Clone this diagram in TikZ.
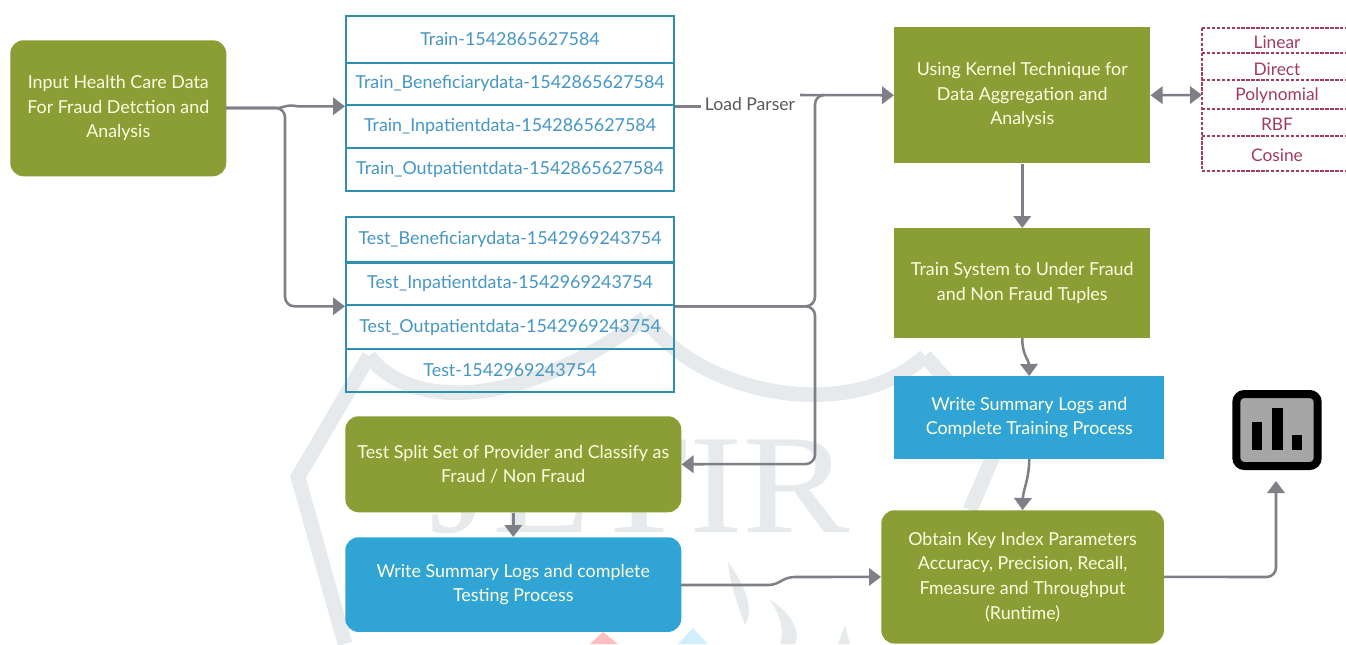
\documentclass[tikz,border=0pt]{standalone}
\usepackage{fontspec}
\setmainfont{Lato}
\newfontfamily\wmfont{Liberation Serif}
\usetikzlibrary{arrows.meta}
\definecolor{olive}{HTML}{8B9E35}
\definecolor{sky}{HTML}{30A5D5}
\definecolor{teal}{HTML}{2F8FAF}
\definecolor{celltext}{HTML}{4596C4}
\definecolor{wine}{HTML}{A23A62}
\definecolor{conn}{HTML}{7F8087}
\definecolor{wmcol}{HTML}{E6EAEC}
\tikzset{
  x=0.75pt,y=-0.75pt,
  flow/.style={draw=none,text=white!88!yellow,align=center,font=\fontsize{13.4}{18.4}\selectfont,inner sep=0pt,anchor=north west},
  oliveround/.style={flow,fill=olive,rounded corners=10pt},
  olivesq/.style={flow,fill=olive},
  bluesq/.style={flow,fill=sky},
  blueround/.style={flow,fill=sky,rounded corners=10pt},
  cell/.style={draw=teal,line width=1.6pt,text=celltext,font=\fontsize{13.4}{16}\selectfont,inner sep=0pt,minimum width=246pt,anchor=north west},
  kcell/.style={text=wine,font=\fontsize{13}{16}\selectfont,inner sep=0pt},
  kline/.style={draw=wine,line width=1.5pt,dash pattern=on 2.5pt off 1.2pt},
  link/.style={draw=conn,line width=1.9pt,rounded corners=7pt},
  headtip/.style={-{Triangle[length=9pt,width=13pt]}},
  arr/.style={link,headtip},
  curvedlink/.style={draw=conn,line width=1.9pt,headtip},
  wm/.style={draw=wmcol,line width=11pt,line join=miter,line cap=butt}
}
\begin{document}
\begin{tikzpicture}
\useasboundingbox (0,0) rectangle (1346,644);
\fill[white] (0,0) rectangle (1346,644);
% watermark
\draw[wm] (345,644) -- (298,477) -- (369,356);
\draw[wm] (369,356) .. controls (410,410) and (520,410) .. (645,318);
\draw[wm] (645,318) .. controls (700,395) and (850,425) .. (925,356);
\draw[wm] (925,356) -- (1000,440) -- (970,510);
\node[font=\fontsize{106}{106}\selectfont\wmfont,text=wmcol,inner sep=0pt,xscale=1.14,anchor=base] (wmt) at (640,532) {JETIR};
\fill[wmcol] (728,562) .. controls (745,585) and (755,610) .. (745,625) .. controls (738,605) and (730,585) .. (728,562);
\fill[wmcol] (770,600) .. controls (795,615) and (800,635) .. (795,644) -- (780,644) .. controls (785,630) and (780,615) .. (770,600);
\fill[wmcol] (845,625) -- (850,644) -- (838,644) -- cycle;
\fill[red!25] (603,632) -- (618,644) -- (590,644) -- cycle;
\fill[cyan!18] (693,628) -- (708,644) -- (678,644) -- cycle;
% boxes
\node[oliveround,minimum width=162pt,minimum height=102pt] (input) at (10,40) {Input Health Care Data\\For Fraud Detction and\\Analysis};
\node[cell,minimum height=35pt] (t1) at (345,15) {Train-1542865627584};
\node[cell,minimum height=32pt] (t2) at (345,61.5) {Train\_Beneficiarydata-1542865627584};
\node[cell,minimum height=32pt] (t3) at (345,104) {Train\_Inpatientdata-1542865627584};
\node[cell,minimum height=32pt] (t4) at (345,147) {Train\_Outpatientdata-1542865627584};
\node[cell,minimum height=34pt] (e1) at (345,216) {Test\_Beneficiarydata-1542969243754};
\node[cell,minimum height=32pt] (e2) at (345,261.5) {Test\_Inpatientdata-1542969243754};
\node[cell,minimum height=33pt] (e3) at (345,304) {Test\_Outpatientdata-1542969243754};
\node[cell,minimum height=32pt] (e4) at (345,348) {Test-1542969243754};
\node[olivesq,minimum width=192pt,minimum height=102pt] (kernel) at (894,27) {Using Kernel Technique for\\Data Aggregation and\\Analysis};
\node[olivesq,minimum width=192pt,minimum height=82pt] (train) at (894,228) {Train System to Under Fraud\\and Non Fraud Tuples};
\node[bluesq,minimum width=202.5pt,minimum height=62pt] (wtrain) at (894,376) {Write Summary Logs and\\Complete Training Process};
\node[oliveround,minimum width=252pt,minimum height=72pt] (split) at (345,416) {Test Split Set of Provider and Classify as\\Fraud / Non Fraud};
\node[blueround,minimum width=252pt,minimum height=71pt] (wtest) at (345,537) {Write Summary Logs and complete\\Testing Process};
\node[oliveround,minimum width=212pt,minimum height=100pt] (obtain) at (881,510) {Obtain Key Index Parameters\\Accuracy, Precision, Recall,\\Fmeasure and Throughput\\(Runtime)};
% kernel list
\draw[kline] (1202,28) -- (1346,28) (1202,53) -- (1346,53) (1202,80) -- (1346,80) (1202,109) -- (1346,109) (1202,136) -- (1346,136) (1202,171) -- (1346,171) (1202,28) -- (1202,171);
\node[kcell] (k1) at (1277,42) {Linear};
\node[kcell] (k2) at (1277,69) {Direct};
\node[kcell] (k3) at (1277,96) {Polynomial};
\node[kcell] (k4) at (1277,124) {RBF};
\node[kcell] (k5) at (1277,155) {Cosine};
\coordinate (kpoly) at (1202,95);
% chart icon
\node[draw=black,fill=black!35,line width=6pt,rounded corners=6pt,minimum width=61pt,minimum height=54pt,inner sep=0pt] (icon) at (1277,430) {};
\fill[black] (1252,422) rectangle (1262,450);
\fill[black] (1272,408) rectangle (1283,450);
\fill[black] (1292,435) rectangle (1302,450);
% connectors
\coordinate (b1) at (226,108);
\path (t2.south west) ++(-47,0) coordinate (t2in);
\draw[curvedlink] (b1) -- (276,108) .. controls (285,108) and (285,104) .. (t2in) -- (t2.south west);
\draw[arr] (b1) -- (285,108) |- (e2.south west);
\node[font=\fontsize{13.2}{16}\selectfont,text=black!65,inner sep=0pt] (load) at (750,104) {Load Parser};
\draw[link] (t2.south east) -- ++(26,0) coordinate (lpa);
\coordinate (lp) at (800,95);
\draw[arr] (lp) -- (kernel.west);
\coordinate (ttop) at (823,95);
\coordinate (tv) at (815,95);
\draw[link] (e2.south east) -| (tv) -- (ttop);
\coordinate (sv) at (815,464);
\draw[arr] (e2.south east) -| (sv) -- (split.east);
\draw[curvedlink,{Triangle[length=9pt,width=13pt]}-{Triangle[length=9pt,width=13pt]}] (kernel.east) -- (kpoly);
\draw[arr] (kernel.south) -- (train.north);
\draw[curvedlink] (train.south) .. controls (1022,355) and (1029,360) .. (wtrain.north);
\draw[curvedlink] (wtrain.south) .. controls (1029,480) and (1023,490) .. (obtain.north);
\draw[curvedlink] (split.south) -- (wtest.north);
\coordinate (wo) at (681,585);
\draw[curvedlink] (wo) -- (768,585) .. controls (780,585) and (782,577) .. (795,577) -- (obtain.west);
\coordinate (up) at (1276,481);
\draw[arr] (obtain.east) -- (1276,577) -- (up);
\end{tikzpicture}
\end{document}
